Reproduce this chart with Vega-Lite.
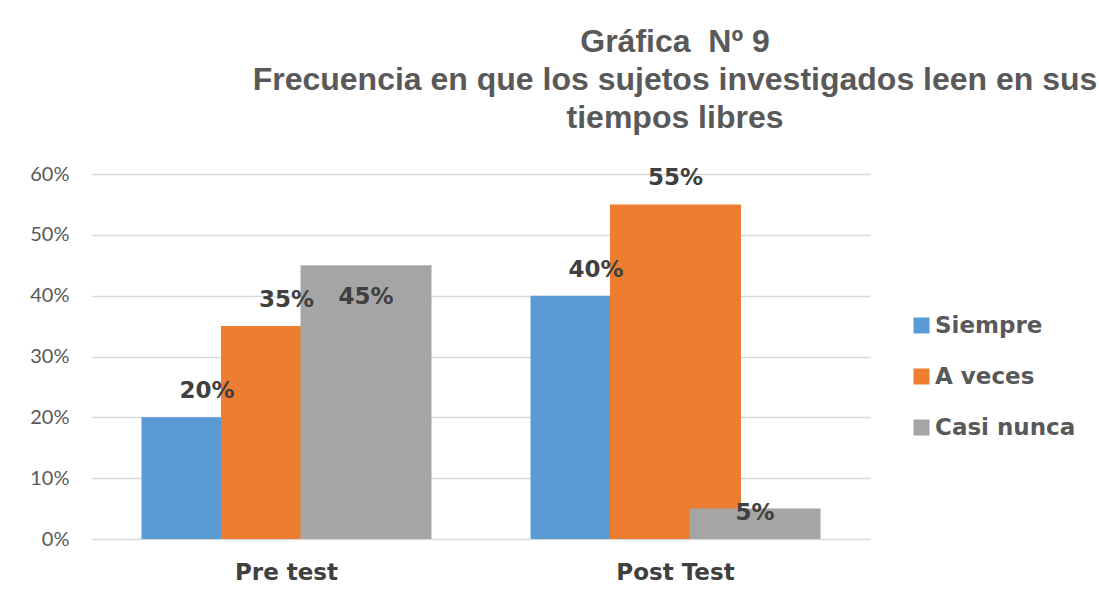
{
  "$schema": "https://vega.github.io/schema/vega-lite/v6.json",
  "width": 778,
  "height": 365,
  "autosize": {"type": "none"},
  "padding": {"left": 92, "top": 174, "right": 229, "bottom": 62},
  "background": "white",
  "title": {
    "text": ["Gráfica\u00a0 Nº 9", "Frecuencia en que los sujetos investigados leen en sus", "tiempos libres"],
    "anchor": "middle",
    "frame": "group",
    "dx": 194,
    "offset": 29,
    "font": "Liberation Sans Narrow, Liberation Sans",
    "fontSize": 32,
    "fontWeight": "bold",
    "color": "#595959",
    "lineHeight": 38
  },
  "config": {
    "view": {"stroke": null},
    "axis": {"grid": false}
  },
  "data": {
    "values": [
      {"test": "Pre test", "serie": "Siempre", "value": 0.20},
      {"test": "Pre test", "serie": "A veces", "value": 0.35},
      {"test": "Pre test", "serie": "Casi nunca", "value": 0.45},
      {"test": "Post Test", "serie": "Siempre", "value": 0.40},
      {"test": "Post Test", "serie": "A veces", "value": 0.55},
      {"test": "Post Test", "serie": "Casi nunca", "value": 0.05}
    ]
  },
  "encoding": {
    "x": {
      "field": "test",
      "type": "nominal",
      "sort": ["Pre test", "Post Test"],
      "scale": {"paddingInner": 0, "paddingOuter": 0},
      "axis": {
        "title": null,
        "labelAngle": 0,
        "ticks": false,
        "domain": false,
        "labelPadding": 22,
        "labelFont": "DejaVu Sans",
        "labelFontWeight": "bold",
        "labelFontSize": 23,
        "labelColor": "#404040"
      }
    },
    "xOffset": {
      "field": "serie",
      "type": "nominal",
      "sort": ["Siempre", "A veces", "Casi nunca"],
      "scale": {"paddingInner": 0, "paddingOuter": 0.946}
    },
    "y": {
      "field": "value",
      "type": "quantitative",
      "scale": {"domain": [0, 0.6], "nice": false},
      "axis": {
        "title": null,
        "values": [0, 0.1, 0.2, 0.3, 0.4, 0.5, 0.6],
        "format": ".0%",
        "grid": true,
        "gridColor": "#d9d9d9",
        "gridWidth": 1.5,
        "ticks": false,
        "domain": false,
        "labelPadding": 23,
        "labelFont": "Lato",
        "labelFontSize": 20,
        "labelColor": "#595959"
      }
    }
  },
  "layer": [
    {
      "mark": {"type": "bar", "width": 131},
      "encoding": {
        "color": {
          "field": "serie",
          "type": "nominal",
          "sort": ["Siempre", "A veces", "Casi nunca"],
          "scale": {"domain": ["Siempre", "A veces", "Casi nunca"], "range": ["#5B9BD5", "#ED7D31", "#A5A5A5"]},
          "legend": {
            "title": null,
            "orient": "none",
            "legendX": 818,
            "legendY": 140,
            "symbolType": "square",
            "symbolSize": 256,
            "symbolStrokeWidth": 0,
            "labelFont": "DejaVu Sans",
            "labelFontWeight": "bold",
            "labelFontSize": 23,
            "labelColor": "#595959",
            "labelOffset": 2,
            "rowPadding": 27,
            "padding": 0
          }
        }
      }
    },
    {
      "transform": [{"filter": "datum.value != 0.45 && datum.value != 0.05"}],
      "mark": {"type": "text", "font": "DejaVu Sans", "fontWeight": "bold", "fontSize": 23, "color": "#404040", "baseline": "middle", "dy": -26},
      "encoding": {"text": {"field": "value", "type": "quantitative", "format": ".0%"}}
    },
    {
      "transform": [{"filter": "datum.value == 0.45"}],
      "mark": {"type": "text", "font": "DejaVu Sans", "fontWeight": "bold", "fontSize": 23, "color": "#404040", "baseline": "middle", "dy": 32},
      "encoding": {"text": {"field": "value", "type": "quantitative", "format": ".0%"}}
    },
    {
      "transform": [{"filter": "datum.value == 0.05"}],
      "mark": {"type": "text", "font": "DejaVu Sans", "fontWeight": "bold", "fontSize": 23, "color": "#404040", "baseline": "middle", "dy": 4},
      "encoding": {"text": {"field": "value", "type": "quantitative", "format": ".0%"}}
    }
  ]
}
